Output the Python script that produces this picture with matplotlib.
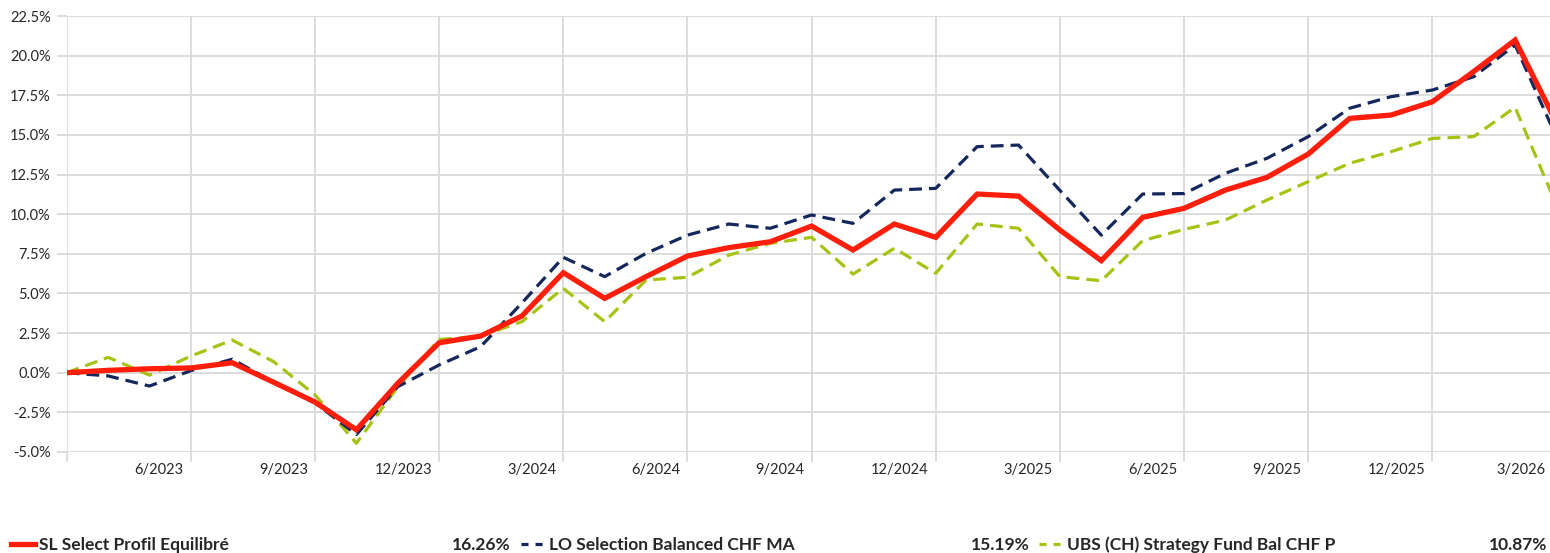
import matplotlib
matplotlib.use("Agg")
import matplotlib.pyplot as plt
from matplotlib.lines import Line2D
from matplotlib.transforms import ScaledTranslation, blended_transform_factory

# ---- data (monthly, 3/2023 .. 3/2026) ----
months = list(range(37))
tick_months = [0, 3, 6, 9, 12, 15, 18, 21, 24, 27, 30, 33, 36]
tick_labels = ["", "6/2023", "9/2023", "12/2023", "3/2024", "6/2024", "9/2024",
               "12/2024", "3/2025", "6/2025", "9/2025", "12/2025", "3/2026"]

sl_select = [0.0, 0.15, 0.25, 0.3, 0.63, -0.6, -1.85, -3.6, -0.67, 1.89, 2.31, 3.58,
             6.31, 4.69, 6.06, 7.36, 7.89, 8.26, 9.25, 7.74, 9.38, 8.54, 11.27, 11.14,
             9.0, 7.07, 9.8, 10.37, 11.52, 12.32, 13.79, 16.04, 16.25, 17.09, 19.0,
             20.98, 15.76]
lo_selection = [0.0, -0.2, -0.84, 0.13, 0.85, -0.6, -1.9, -3.9, -0.88, 0.49, 1.64, 4.4,
                7.28, 6.06, 7.53, 8.68, 9.38, 9.11, 9.95, 9.42, 11.52, 11.63, 14.26, 14.36,
                11.5, 8.68, 11.27, 11.3, 12.58, 13.52, 14.89, 16.68, 17.41, 17.83, 18.67,
                20.67, 14.86]
ubs_strategy = [0.0, 0.97, -0.15, 1.05, 2.06, 0.7, -1.4, -4.45, -0.9, 2.1, 2.3, 3.22,
                5.32, 3.22, 5.85, 6.02, 7.42, 8.16, 8.54, 6.22, 7.85, 6.27, 9.38, 9.11,
                6.06, 5.8, 8.33, 9.04, 9.63, 10.89, 12.05, 13.21, 13.94, 14.78, 14.89,
                16.74, 10.56]

series_names = ["SL Select Profil Equilibré", "LO Selection Balanced CHF MA",
                "UBS (CH) Strategy Fund Bal CHF P"]
legend_values = ["16.26%", "15.19%", "10.87%"]

y_ticks = [-5.0, -2.5, 0.0, 2.5, 5.0, 7.5, 10.0, 12.5, 15.0, 17.5, 20.0, 22.5]

# ---- styles ----
RED = "#FF1E0A"
NAVY = "#13275C"
GREEN = "#A7C212"
GRID = "#D9D9D9"
TXT = "#262626"
FONT = "Lato"

W, H = 1550, 553
fig = plt.figure(figsize=(W / 100, H / 100), dpi=100)
ax = fig.add_axes([66.7 / W, (H - 452) / H, (1556.5 - 66.7) / W, 436 / H])

ax.plot(months, ubs_strategy, color=GREEN, lw=2.3, dashes=(4, 2.2), dash_capstyle="butt", zorder=3)
ax.plot(months, lo_selection, color=NAVY, lw=2.3, dashes=(4, 2.2), dash_capstyle="butt", zorder=4)
ax.plot(months, sl_select, color=RED, lw=3.8, solid_joinstyle="miter", zorder=5)

ax.set_xlim(0, 36)
ax.set_ylim(-5, 22.5)
ax.set_yticks(y_ticks)
ax.set_yticklabels([f"{v:.1f}%" for v in y_ticks], fontfamily=FONT, fontsize=10.5, color=TXT)
ax.set_xticks(tick_months)
ax.set_xticklabels([])

# x labels placed to the left of their gridline (as in the reference)
trans = blended_transform_factory(ax.transData, ax.transAxes)
for i, (m, lab) in enumerate(zip(tick_months, tick_labels)):
    if not lab:
        continue
    off = -11 if i == len(tick_labels) - 1 else -7
    t = trans + ScaledTranslation(off / 100, -11 / 100, fig.dpi_scale_trans)
    ax.text(m, 0, lab, transform=t, ha="right", va="top", fontfamily=FONT,
            fontsize=10.5, color=TXT, clip_on=False)

ax.grid(True, color=GRID, lw=1.3, zorder=0)
ax.set_axisbelow(True)
for s in ax.spines.values():
    s.set_visible(False)
ax.tick_params(axis="both", color=GRID, width=1.3, length=7.5, direction="out")
ax.tick_params(axis="y", pad=4)

# ---- custom legend row ----
line_y = (H - 543.5) / H
text_y = (H - 550) / H
col_x = [11, 521, 1039]
val_right = [511, 1030, 1547]
styles = [dict(color=RED, lw=3.8), dict(color=NAVY, lw=2.3, dashes=(2.2, 2.2)),
          dict(color=GREEN, lw=2.3, dashes=(2.2, 2.2))]
for x0, xr, name, val, st in zip(col_x, val_right, series_names, legend_values, styles):
    fig.add_artist(Line2D([x0 / W, (x0 + 24) / W], [line_y, line_y], transform=fig.transFigure, **st))
    fig.text((x0 + 28) / W, text_y, name, fontfamily=FONT, fontweight="bold", fontsize=12.5,
             color=TXT, va="baseline", ha="left")
    fig.text(xr / W, text_y, val, fontfamily=FONT, fontweight="bold", fontsize=12.5,
             color=TXT, va="baseline", ha="right")

fig.savefig("out.png", dpi=100)
